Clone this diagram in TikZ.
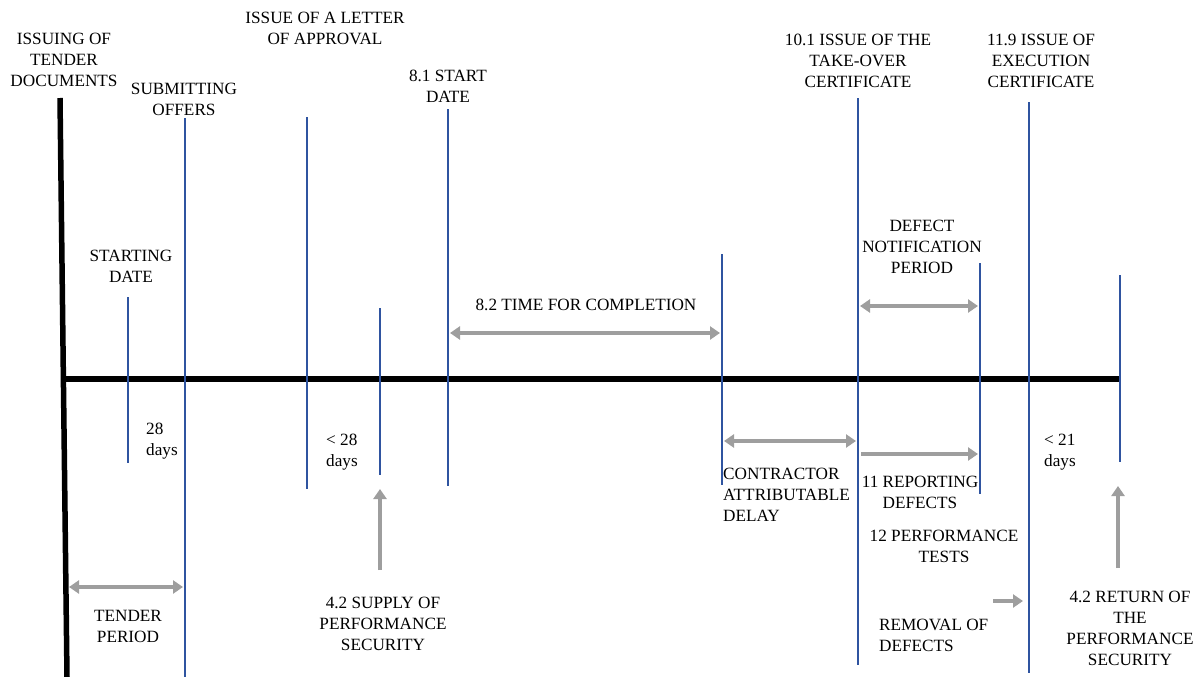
\documentclass[tikz,border=0pt]{standalone}
\usepackage{fontspec}
\setmainfont{Liberation Serif}
\usetikzlibrary{arrows.meta}
\definecolor{tlblue}{RGB}{47,84,160}
\definecolor{tlgray}{RGB}{158,158,158}
\begin{document}
\begin{tikzpicture}[x=1pt,y=-1pt,
  lbl/.style={font=\fontsize{17.2}{21}\selectfont, align=center, inner sep=0pt},
  lbll/.style={lbl, align=left},
  tick/.style={draw=tlblue, line width=1.8pt},
  thintick/.style={draw=tlblue, line width=1.1pt},
  axis/.style={draw=black, line width=6pt},
  span/.style={draw=tlgray, line width=4.5pt, {Triangle[length=10pt,width=13pt]}-{Triangle[length=10pt,width=13pt]}},
  push/.style={draw=tlgray, line width=4.5pt, -{Triangle[length=10pt,width=13pt]}},
]
\useasboundingbox (0,0) rectangle (1202,677);

% main axes
\coordinate (v0) at (60,98);
\coordinate (v1) at (67,677);
\coordinate (h0) at (66,379);
\coordinate (h1) at (1120,379);
\draw[black, line width=5.5pt] (v0) -- (v1);
\draw[axis] (h0) -- (h1);

% event markers
\coordinate (a1) at (128,297); \coordinate (b1) at (128,463);
\coordinate (a2) at (185,118); \coordinate (b2) at (185,677);
\coordinate (a3) at (307,117); \coordinate (b3) at (307,489);
\coordinate (a4) at (380,308); \coordinate (b4) at (380,475);
\coordinate (a5) at (448,109); \coordinate (b5) at (448,486);
\coordinate (a6) at (722,254); \coordinate (b6) at (722,485);
\coordinate (a7) at (858,98);  \coordinate (b7) at (858,665);
\coordinate (a8) at (980,263); \coordinate (b8) at (980,494);
\coordinate (a9) at (1029,102); \coordinate (b9) at (1029,673);
\coordinate (a10) at (1120,275); \coordinate (b10) at (1120,462);
\draw[thintick] (a1) -- (b1);
\draw[tick] (a2) -- (b2);
\draw[tick] (a3) -- (b3);
\draw[thintick] (a4) -- (b4);
\draw[tick] (a5) -- (b5);
\draw[tick] (a6) -- (b6);
\draw[tick] (a7) -- (b7);
\draw[tick] (a8) -- (b8);
\draw[tick] (a9) -- (b9);
\draw[tick] (a10) -- (b10);

% period arrows
\coordinate (tc0) at (450,333); \coordinate (tc1) at (720,333);
\coordinate (dn0) at (860,306); \coordinate (dn1) at (978,306);
\coordinate (cd0) at (724,441); \coordinate (cd1) at (856,441);
\coordinate (rd0) at (861,454); \coordinate (rd1) at (978,454);
\coordinate (tp0) at (69,587);  \coordinate (tp1) at (183,587);
\coordinate (ps0) at (380,570); \coordinate (ps1) at (380,489);
\coordinate (rs0) at (1118,568); \coordinate (rs1) at (1118,486);
\coordinate (rm0) at (993,601); \coordinate (rm1) at (1023,601);
\draw[span] (tc0) -- (tc1);
\draw[span] (dn0) -- (dn1);
\draw[span] (cd0) -- (cd1);
\draw[push] (rd0) -- (rd1);
\draw[span] (tp0) -- (tp1);
\draw[push] (ps0) -- (ps1);
\draw[push] (rs0) -- (rs1);
\draw[push] (rm0) -- (rm1);

% labels above the axis
\node[lbl] (issuing) at (64,60) {ISSUING OF\\TENDER\\DOCUMENTS};
\node[lbl] (submit) at (184,99) {SUBMITTING\\OFFERS};
\node[lbl] (letter) at (325,28) {ISSUE OF A LETTER\\OF APPROVAL};
\node[lbl] (start) at (448,86) {8.1 START\\DATE};
\node[lbl] (takeover) at (858,61) {10.1 ISSUE OF THE\\TAKE-OVER\\CERTIFICATE};
\node[lbl] (execution) at (1041,61) {11.9 ISSUE OF\\EXECUTION\\CERTIFICATE};
\node[lbl] (startingdate) at (131,266) {STARTING\\DATE};
\node[lbl] (completion) at (586,305) {8.2 TIME FOR COMPLETION};
\node[lbl] (defectperiod) at (922,247) {DEFECT\\NOTIFICATION\\PERIOD};

% labels below the axis
\node[lbll, anchor=west] (d28) at (146,441) {28\\days};
\node[lbll, anchor=west] (lt28) at (326,452) {< 28\\days};
\node[lbll, anchor=west] (delay) at (723,495) {CONTRACTOR\\ATTRIBUTABLE\\DELAY};
\node[lbl] (reporting) at (920,492) {11 REPORTING\\DEFECTS};
\node[lbll, anchor=west] (lt21) at (1044,452) {< 21\\days};
\node[lbl] (tests) at (944,546) {12 PERFORMANCE\\TESTS};
\node[lbll, anchor=west] (removal) at (879,635) {REMOVAL OF\\DEFECTS};
\node[lbl] (returnsec) at (1130,628) {4.2 RETURN OF\\THE\\PERFORMANCE\\SECURITY};
\node[lbl] (tender) at (128,626) {TENDER\\PERIOD};
\node[lbl] (supply) at (383,624) {4.2 SUPPLY OF\\PERFORMANCE\\SECURITY};
\end{tikzpicture}
\end{document}
